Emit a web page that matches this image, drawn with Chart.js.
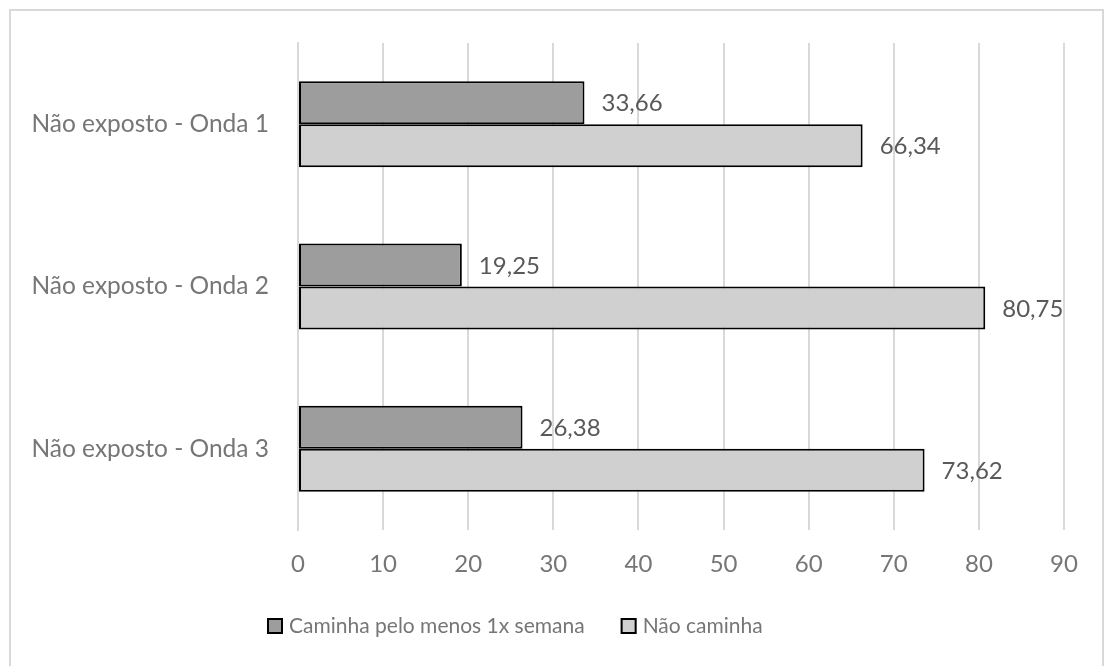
<!DOCTYPE html>
<html>
<head>
<meta charset="utf-8">
<script src="https://cdn.jsdelivr.net/npm/chart.js@4.4.1/dist/chart.umd.min.js"></script>
<style>
  html, body { margin: 0; padding: 0; background: #ffffff; }
  #wrap { position: relative; width: 1114px; height: 666px; }
  canvas { display: block; }
</style>
</head>
<body>
<div id="wrap"><canvas id="chart" width="1114" height="666"></canvas></div>
<script>
// Categories (top to bottom) and the two shares per wave, in %
const categories = ['Não exposto - Onda 1', 'Não exposto - Onda 2', 'Não exposto - Onda 3'];
const seriesNames = ['Caminha pelo menos 1x semana', 'Não caminha'];
const caminha = [33.66, 19.25, 26.38];
const naoCaminha = [66.34, 80.75, 73.62];
const xTicks = [0, 10, 20, 30, 40, 50, 60, 70, 80, 90];

const FONT = 'Lato, "Liberation Sans", sans-serif';
const AXIS_GREY = '#767676';
const LABEL_GREY = '#595959';

const fmt = v => v.toFixed(2).replace('.', ',');

// Outer frame around the whole chart
const framePlugin = {
  id: 'frame',
  beforeDraw(chart) {
    const ctx = chart.ctx;
    ctx.save();
    ctx.fillStyle = '#ffffff';
    ctx.fillRect(0, 0, chart.width, chart.height);
    ctx.strokeStyle = '#d9d9d9';
    ctx.lineWidth = 2;
    ctx.strokeRect(10, 10, chart.width - 21, chart.height + 10);
    ctx.restore();
  }
};

// Value labels just past the end of each bar
const valueLabels = {
  id: 'valueLabels',
  afterDatasetsDraw(chart) {
    const ctx = chart.ctx;
    ctx.save();
    ctx.font = '24px ' + FONT;
    ctx.fillStyle = LABEL_GREY;
    ctx.textAlign = 'left';
    ctx.textBaseline = 'middle';
    chart.data.datasets.forEach((ds, i) => {
      chart.getDatasetMeta(i).data.forEach((bar, j) => {
        ctx.fillText(fmt(ds.data[j]), bar.x + 17, bar.y + 1);
      });
    });
    ctx.restore();
  }
};

// Compact legend row under the axis: square swatch followed closely by its name
const compactLegend = {
  id: 'compactLegend',
  afterDraw(chart) {
    const ctx = chart.ctx;
    ctx.save();
    ctx.font = '21px ' + FONT;
    ctx.textAlign = 'left';
    ctx.textBaseline = 'middle';
    let x = 267;
    const boxTop = 618, box = 16, cy = 626;
    chart.data.datasets.forEach(ds => {
      ctx.fillStyle = ds.backgroundColor;
      ctx.fillRect(x, boxTop, box, box);
      ctx.strokeStyle = ds.borderColor;
      ctx.lineWidth = 2;
      ctx.strokeRect(x + 1, boxTop + 1, box - 2, box - 2);
      const tx = x + box + 6;
      ctx.fillStyle = AXIS_GREY;
      ctx.fillText(ds.label, tx, cy);
      x = tx + ctx.measureText(ds.label).width + 36;
    });
    ctx.restore();
  }
};

new Chart(document.getElementById('chart'), {
  type: 'bar',
  data: {
    labels: categories,
    datasets: [
      {
        label: seriesNames[0],
        data: caminha,
        backgroundColor: '#9d9d9d',
        borderColor: '#000000',
        borderWidth: 2,
        borderSkipped: false
      },
      {
        label: seriesNames[1],
        data: naoCaminha,
        backgroundColor: '#d0d0d0',
        borderColor: '#000000',
        borderWidth: 2,
        borderSkipped: false
      }
    ]
  },
  options: {
    indexAxis: 'y',
    responsive: false,
    animation: false,
    devicePixelRatio: 1,
    layout: { padding: { top: 43, right: 50, bottom: 70, left: 0 } },
    datasets: { bar: { categoryPercentage: 0.53, barPercentage: 1.0 } },
    scales: {
      x: {
        min: 0,
        max: 90,
        afterBuildTicks(scale) { scale.ticks = xTicks.map(v => ({ value: v })); },
        grid: { color: '#d9d9d9', lineWidth: 2, drawTicks: false },
        border: { display: false },
        ticks: {
          color: AXIS_GREY,
          font: { family: FONT, size: 24 },
          padding: 20,
          maxRotation: 0
        },
        afterFit(scale) { scale.height = 66; }
      },
      y: {
        grid: { display: false },
        border: { display: true, color: '#d9d9d9', width: 2 },
        ticks: {
          color: AXIS_GREY,
          font: { family: FONT, size: 24.5 },
          padding: 21
        },
        afterFit(scale) { scale.width = 298; }
      }
    },
    plugins: {
      legend: { display: false },
      tooltip: { enabled: false }
    }
  },
  plugins: [framePlugin, valueLabels, compactLegend]
});
</script>
</body>
</html>
